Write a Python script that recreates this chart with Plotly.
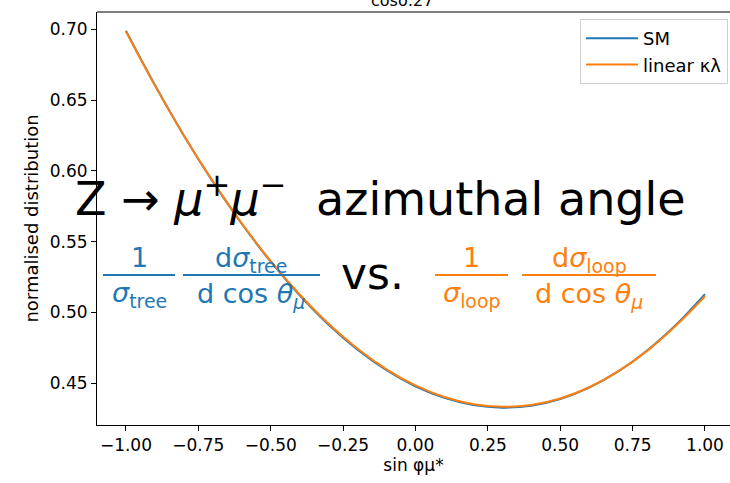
import plotly.graph_objects as go

# ---- data ----
x_vals = [-1.0, -0.9, -0.8, -0.7, -0.6, -0.5, -0.4, -0.3, -0.2, -0.1, 0.0,
          0.1, 0.2, 0.3, 0.4, 0.5, 0.6, 0.7, 0.8, 0.9, 1.0]
sm_vals = [0.6990, 0.6606, 0.6250, 0.5924, 0.5627, 0.5359, 0.5122, 0.4914,
           0.4738, 0.4593, 0.4479, 0.4397, 0.4346, 0.4328, 0.4342, 0.4389,
           0.4470, 0.4584, 0.4732, 0.4914, 0.5130]
lin_vals = [0.6985, 0.6604, 0.6250, 0.5926, 0.5630, 0.5363, 0.5127, 0.4920,
            0.4744, 0.4599, 0.4485, 0.4403, 0.4352, 0.4334, 0.4347, 0.4393,
            0.4472, 0.4584, 0.4729, 0.4908, 0.5115]
series_names = ["SM", "linear κλ"]
x_ticks = [-1.0, -0.75, -0.5, -0.25, 0.0, 0.25, 0.5, 0.75, 1.0]
y_ticks = [0.45, 0.50, 0.55, 0.60, 0.65, 0.70]

BLUE = "#1f77b4"
ORANGE = "#ff7f0e"
W, H = 730, 483
L, T, B = 97, 12, 58
PW, PH = W - L, H - T - B


def px(x):
    return (x - L) / PW


def py(y):
    return 1 - (y - T) / PH


fig = go.Figure()
fig.add_trace(go.Scatter(x=x_vals, y=sm_vals, mode="lines", name=series_names[0],
                         line=dict(color=BLUE, width=2, shape="spline")))
fig.add_trace(go.Scatter(x=x_vals, y=lin_vals, mode="lines", name=series_names[1],
                         line=dict(color=ORANGE, width=2, shape="spline")))

font = "DejaVu Sans"
fig.update_layout(
    width=W, height=H,
    margin=dict(l=L, r=0, t=T, b=B),
    plot_bgcolor="white", paper_bgcolor="white",
    font=dict(family=font, size=17, color="black"),
    showlegend=True,
    legend=dict(x=px(728), y=py(19), xanchor="right", yanchor="top",
                bgcolor="white", bordercolor="#d0d0d0", borderwidth=1,
                font=dict(size=18), tracegroupgap=0, itemwidth=52),
    xaxis=dict(range=[-1.1, 1.0864], tickvals=x_ticks, tickformat=".2f",
               showgrid=False, zeroline=False, showline=True, linecolor="black",
               linewidth=1, ticks="outside", ticklen=5, tickcolor="black",
               title=dict(text="sin φμ*", font=dict(size=17), standoff=4)),
    yaxis=dict(range=[0.42055, 0.71222], tickvals=y_ticks, tickformat=".2f",
               showgrid=False, zeroline=False, showline=True, linecolor="black",
               linewidth=1, ticks="outside", ticklen=5, tickcolor="black",
               title=dict(text="normalised distribution", font=dict(size=18), standoff=6)),
)

shapes = [
    dict(type="line", xref="paper", yref="paper", x0=0, x1=1, y0=1, y1=1,
         line=dict(color="black", width=1)),
]
# fraction bars
for (x0, x1, col) in [(103, 175, BLUE), (183, 320, BLUE), (435, 508, ORANGE), (522, 656, ORANGE)]:
    shapes.append(dict(type="line", xref="paper", yref="paper", x0=px(x0), x1=px(x1),
                       y0=py(275), y1=py(275), line=dict(color=col, width=2)))
fig.update_layout(shapes=shapes)

ann = []


def add(text, x, y, size, color="black"):
    ann.append(dict(text=text, x=px(x), y=py(y), xref="paper", yref="paper",
                    xanchor="center", yanchor="middle", showarrow=False,
                    font=dict(family=font, size=size, color=color)))


add("cosδ:27", 402, 1, 16)
add("Z → <i>μ</i><sup>+</sup><i>μ</i><sup>−</sup>  azimuthal angle", 380, 196, 46)
add("1", 139, 257, 27, BLUE)
add("d<i>σ</i><sub>tree</sub>", 251, 259, 27, BLUE)
add("<i>σ</i><sub>tree</sub>", 139, 294, 27, BLUE)
add("d cos <i>θ</i><sub><i>μ</i></sub>", 251, 295, 27, BLUE)
add("vs.", 372, 273, 44)
add("1", 471, 257, 27, ORANGE)
add("d<i>σ</i><sub>loop</sub>", 589, 259, 27, ORANGE)
add("<i>σ</i><sub>loop</sub>", 471, 294, 27, ORANGE)
add("d cos <i>θ</i><sub><i>μ</i></sub>", 589, 295, 27, ORANGE)
fig.update_layout(annotations=ann)

fig.write_html("out.html", config={"displayModeBar": False},
               post_script="document.body.style.margin='0';document.body.style.overflow='hidden';")
